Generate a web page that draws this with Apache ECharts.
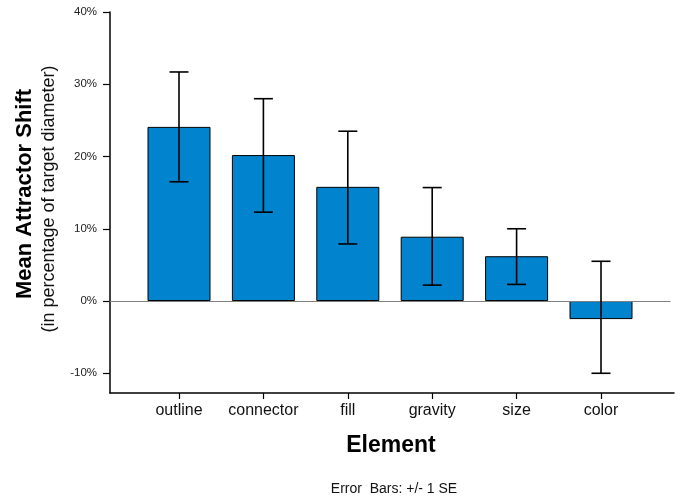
<!DOCTYPE html>
<html>
<head>
<meta charset="utf-8">
<script src="https://cdn.jsdelivr.net/npm/echarts@6/dist/echarts.min.js"></script>
<style>
html,body{margin:0;padding:0;background:#fff;}
#c{width:683px;height:499px;}
</style>
</head>
<body>
<div id="c"></div>
<script>
var categories = ['outline', 'connector', 'fill', 'gravity', 'size', 'color'];
var meanShift = [24.1, 20.2, 15.8, 8.9, 6.2, -2.5];
var errHigh = [31.7, 28.0, 23.5, 15.7, 10.0, 5.5];
var errLow = [16.5, 12.3, 7.9, 2.2, 2.3, -10.0];
var yTicks = [-10, 0, 10, 20, 30, 40];

var FONT = '"Liberation Sans", Arial, sans-serif';
var yMin = -12.73, yMax = 40;
var TOP = 12, BOTTOM = 106;

var errData = categories.map(function (c, i) { return [i, errLow[i], errHigh[i]]; });

var chart = echarts.init(document.getElementById('c'), null, { renderer: 'canvas' });
chart.setOption({
  animation: false,
  backgroundColor: '#ffffff',
  grid: [
    { left: 110, right: 9, top: TOP, bottom: BOTTOM },
    { left: 136.8, width: 506.4, top: TOP, bottom: BOTTOM },
    { left: 110, right: 13, top: TOP, bottom: BOTTOM }
  ],
  xAxis: [
    { gridIndex: 0, type: 'value', min: 0, max: 1, axisLine: { show: true, onZero: false, lineStyle: { color: '#000', width: 1.5 } },
      axisTick: { show: false }, axisLabel: { show: false }, splitLine: { show: false } },
    { gridIndex: 1, type: 'category', data: categories, boundaryGap: true,
      axisLine: { show: false, onZero: false },
      axisTick: { show: true, interval: 0, alignWithLabel: true, length: 6, lineStyle: { color: '#000', width: 1.2 } },
      axisLabel: { show: true, interval: 0, hideOverlap: false, margin: 10, fontFamily: FONT, fontSize: 16, color: '#111' },
      splitLine: { show: false } },
    { gridIndex: 2, type: 'value', min: 0, max: 1, axisLine: { show: true, onZero: true, lineStyle: { color: '#808080', width: 1.2 } },
      axisTick: { show: false }, axisLabel: { show: false }, splitLine: { show: false }, z: 5 }
  ],
  yAxis: [
    { gridIndex: 0, type: 'value', min: yMin, max: yMax,
      axisLine: { show: true, lineStyle: { color: '#000', width: 1.5 } },
      axisTick: { show: true, length: 7, customValues: yTicks, lineStyle: { color: '#000', width: 1.2 } },
      axisLabel: { show: true, customValues: yTicks, margin: 13, padding: [6, 0, 0, 0], fontFamily: FONT, fontSize: 11.5, color: '#222',
        formatter: function (v) { return Math.round(v) + '%'; } },
      splitLine: { show: false } },
    { gridIndex: 1, type: 'value', min: yMin, max: yMax, show: false },
    { gridIndex: 2, type: 'value', min: yMin, max: yMax, show: false }
  ],
  series: [
    {
      type: 'bar', xAxisIndex: 1, yAxisIndex: 1, data: meanShift, barWidth: 63,
      itemStyle: { color: '#0283CE', borderColor: '#000', borderWidth: 1 }, z: 2
    },
    {
      type: 'custom', xAxisIndex: 1, yAxisIndex: 1, data: errData, z: 10,
      renderItem: function (params, api) {
        var x = api.value(0);
        var lo = api.coord([x, api.value(1)]);
        var hi = api.coord([x, api.value(2)]);
        var hw = 9.5;
        var st = { stroke: '#000', lineWidth: 1.6 };
        return { type: 'group', children: [
          { type: 'line', shape: { x1: hi[0], y1: hi[1], x2: lo[0], y2: lo[1] }, style: st },
          { type: 'line', shape: { x1: hi[0] - hw, y1: hi[1], x2: hi[0] + hw, y2: hi[1] }, style: st },
          { type: 'line', shape: { x1: lo[0] - hw, y1: lo[1], x2: lo[0] + hw, y2: lo[1] }, style: st }
        ] };
      }
    }
  ],
  graphic: [
    { type: 'text', x: 25, y: 194, rotation: Math.PI / 2, style: { text: 'Mean Attractor Shift', fontFamily: FONT, fontSize: 22, fontWeight: 'bold', fill: '#000', align: 'center', verticalAlign: 'middle' } },
    { type: 'text', x: 49, y: 199, rotation: Math.PI / 2, style: { text: '(in percentage of target diameter)', fontFamily: FONT, fontSize: 18, fill: '#111', align: 'center', verticalAlign: 'middle' } },
    { type: 'text', x: 391, y: 446, style: { text: 'Element', fontFamily: FONT, fontSize: 23, fontWeight: 'bold', fill: '#000', align: 'center', verticalAlign: 'middle' } },
    { type: 'text', x: 394, y: 489, style: { text: 'Error  Bars: +/- 1 SE', fontFamily: FONT, fontSize: 14, fill: '#111', align: 'center', verticalAlign: 'middle' } }
  ]
});
</script>
</body>
</html>
